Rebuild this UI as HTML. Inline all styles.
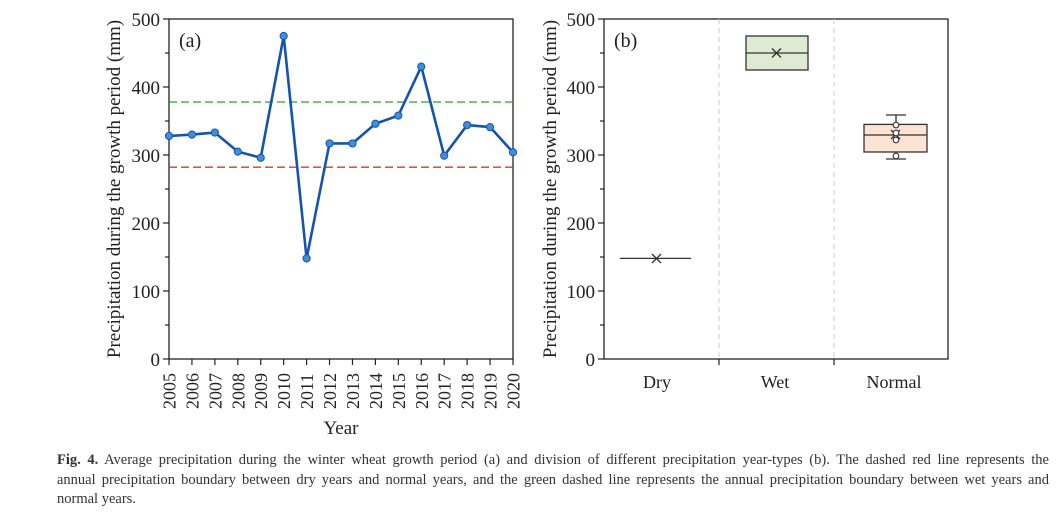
<!DOCTYPE html>
<html><head><meta charset="utf-8"><style>
body{margin:0;background:#fff;width:1058px;height:513px;overflow:hidden;font-family:"Liberation Serif",serif;}
.cap{position:absolute;left:57px;top:451px;width:992px;font-size:14.5px;line-height:19.5px;color:#333;}
.j{text-align:justify;text-align-last:justify;white-space:nowrap;}
</style></head><body>
<svg width="1058" height="440" style="position:absolute;left:0;top:0" font-family="Liberation Serif, serif" fill="#222">
<g stroke="#222" stroke-width="1.3" fill="none">
<rect x="169" y="19" width="344" height="340"/>
</g>
<g stroke="#222" stroke-width="1.2">
<line x1="163" y1="19" x2="169" y2="19"/><line x1="165" y1="53" x2="169" y2="53"/>
<line x1="163" y1="87" x2="169" y2="87"/><line x1="165" y1="121" x2="169" y2="121"/>
<line x1="163" y1="155" x2="169" y2="155"/><line x1="165" y1="189" x2="169" y2="189"/>
<line x1="163" y1="223" x2="169" y2="223"/><line x1="165" y1="257" x2="169" y2="257"/>
<line x1="163" y1="291" x2="169" y2="291"/><line x1="165" y1="325" x2="169" y2="325"/>
<line x1="163" y1="359" x2="169" y2="359"/>
</g>
<g font-size="19" text-anchor="end">
<text x="160" y="26">500</text><text x="160" y="94">400</text><text x="160" y="162">300</text>
<text x="160" y="230">200</text><text x="160" y="298">100</text><text x="160" y="366">0</text>
</g>
<text transform="translate(120,189) rotate(-90)" font-size="19" text-anchor="middle">Precipitation during the growth period (mm)</text>
<text x="179" y="47" font-size="20">(a)</text>
<line x1="169" y1="102" x2="513" y2="102" stroke="#2ca02c" stroke-width="1.3" stroke-dasharray="8,4"/>
<line x1="169" y1="167.2" x2="513" y2="167.2" stroke="#e8322b" stroke-width="1.3" stroke-dasharray="8,4"/>
<g id="xa" font-size="18"></g>
<polyline id="pl" fill="none" stroke="#1553b0" stroke-width="2.6" stroke-linejoin="round"/>
<g id="dots" fill="#3f8fd8" stroke="#1553b0" stroke-width="1"></g>
<text x="341" y="434" font-size="19" text-anchor="middle">Year</text>

<rect x="604" y="19" width="344" height="340" fill="none" stroke="#222" stroke-width="1.3"/>
<g stroke="#ccc" stroke-width="1" stroke-dasharray="5,4">
<line x1="719" y1="19" x2="719" y2="359"/><line x1="834" y1="19" x2="834" y2="359"/>
</g>
<g stroke="#222" stroke-width="1.2">
<line x1="598" y1="19" x2="604" y2="19"/><line x1="600" y1="53" x2="604" y2="53"/>
<line x1="598" y1="87" x2="604" y2="87"/><line x1="600" y1="121" x2="604" y2="121"/>
<line x1="598" y1="155" x2="604" y2="155"/><line x1="600" y1="189" x2="604" y2="189"/>
<line x1="598" y1="223" x2="604" y2="223"/><line x1="600" y1="257" x2="604" y2="257"/>
<line x1="598" y1="291" x2="604" y2="291"/><line x1="600" y1="325" x2="604" y2="325"/>
<line x1="598" y1="359" x2="604" y2="359"/>
<line x1="719" y1="359" x2="719" y2="365"/><line x1="834" y1="359" x2="834" y2="365"/>
</g>
<g font-size="19" text-anchor="end">
<text x="595" y="26">500</text><text x="595" y="94">400</text><text x="595" y="162">300</text>
<text x="595" y="230">200</text><text x="595" y="298">100</text><text x="595" y="366">0</text>
</g>
<text transform="translate(556,189) rotate(-90)" font-size="19" text-anchor="middle">Precipitation during the growth period (mm)</text>
<text x="614" y="47" font-size="20">(b)</text>
<g font-size="18" text-anchor="middle">
<text x="657" y="388">Dry</text><text x="775" y="388">Wet</text><text x="894" y="388">Normal</text>
</g>
<g stroke="#333" stroke-width="1.3">
<line x1="620" y1="258.4" x2="691" y2="258.4"/>
<line x1="652" y1="254" x2="661" y2="263"/><line x1="661" y1="254" x2="652" y2="263"/>
<rect x="746" y="36" width="62" height="34" fill="#deebd2"/>
<line x1="746" y1="53" x2="808" y2="53"/>
<line x1="772" y1="48.5" x2="781" y2="57.5"/><line x1="781" y1="48.5" x2="772" y2="57.5"/>
<line x1="896" y1="125" x2="896" y2="115"/><line x1="886" y1="115" x2="906" y2="115"/>
<line x1="896" y1="152" x2="896" y2="159"/><line x1="886" y1="159" x2="906" y2="159"/>
<rect x="864" y="124.4" width="63" height="27.6" fill="#fce3d3"/>
<line x1="864" y1="135" x2="927" y2="135"/>
<line x1="891" y1="130" x2="900" y2="139"/><line x1="900" y1="130" x2="891" y2="139"/>
</g>
<g fill="#fff" stroke="#333" stroke-width="1.1">
<circle cx="896" cy="125" r="2.8"/><circle cx="896" cy="133" r="2.8"/><circle cx="896" cy="140" r="2.8"/><circle cx="896" cy="156" r="2.8"/>
</g>
</svg>
<div class="cap">
<div class="j"><b>Fig. 4.</b> Average precipitation during the winter wheat growth period (a) and division of different precipitation year-types (b). The dashed red line represents the</div>
<div class="j">annual precipitation boundary between dry years and normal years, and the green dashed line represents the annual precipitation boundary between wet years and</div>
<div>normal years.</div>
</div>
<script>
var v=[328,330,333,305,296,475,148,317,317,346,358,430,299,344,341,304];
var pts=[],d='',xa='';
for(var i=0;i<16;i++){var x=169+i*344/15,y=359-v[i]*0.68;pts.push(x.toFixed(1)+','+y.toFixed(1));
d+='<circle cx="'+x+'" cy="'+y+'" r="3.6"/>';
xa+='<line x1="'+x+'" y1="359" x2="'+x+'" y2="365" stroke="#222" stroke-width="1.2"/><text transform="translate('+(x+6.5)+',409) rotate(-90)">'+(2005+i)+'</text>';}
document.getElementById('pl').setAttribute('points',pts.join(' '));
document.getElementById('dots').innerHTML=d;
document.getElementById('xa').innerHTML=xa;
</script>
</body></html>
